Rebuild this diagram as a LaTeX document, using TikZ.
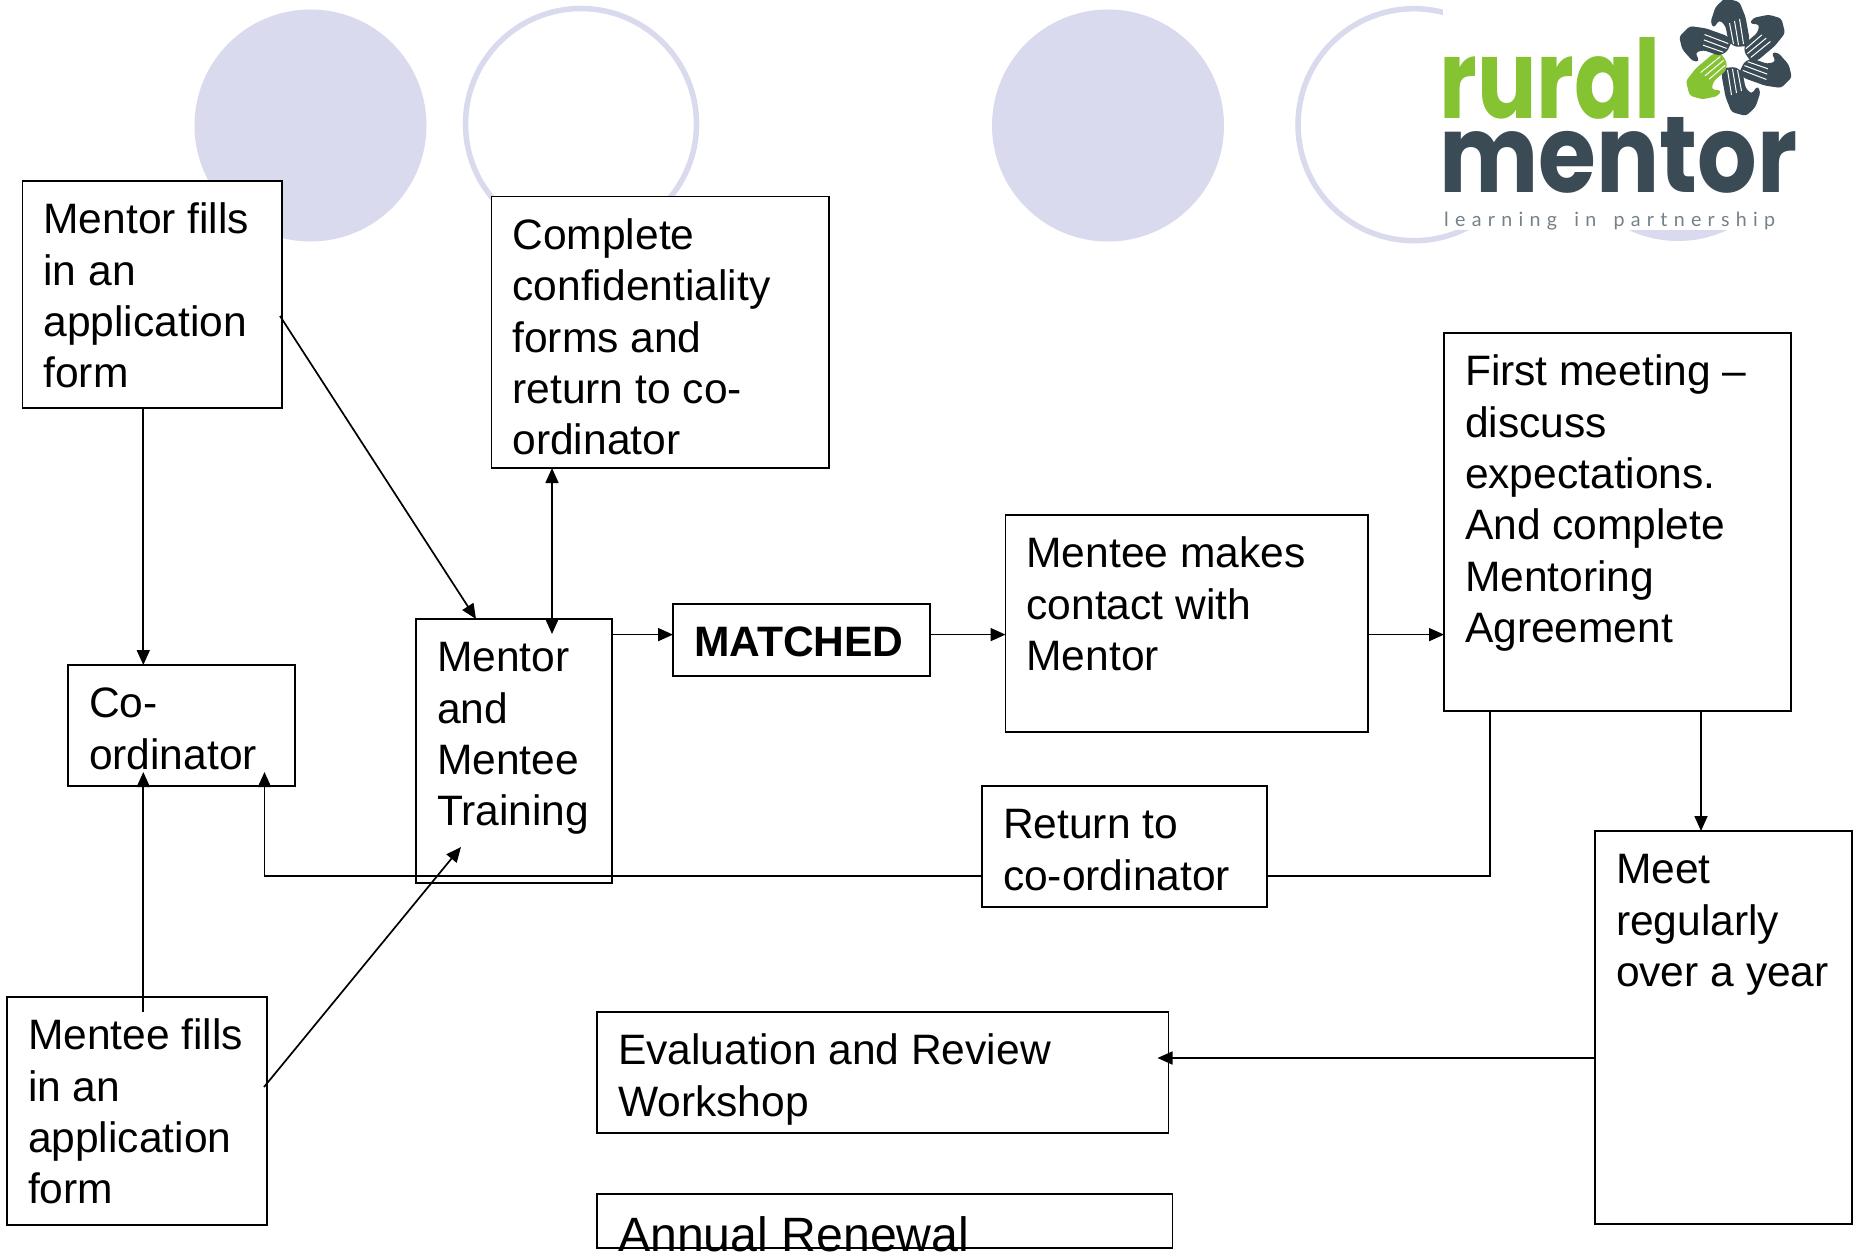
\documentclass[tikz,border=0pt]{standalone}
\usepackage{fontspec}
\usepackage{graphicx}
\setmainfont{Liberation Sans}
\newfontfamily\logofont{Poppins}
\newfontfamily\tagfont{Lato}
\usetikzlibrary{arrows.meta,calc}
\definecolor{lav}{HTML}{DADAEE}
\definecolor{logogreen}{HTML}{86C332}
\definecolor{logodark}{HTML}{3A4B55}
\newcommand{\boxtxt}[3]{\parbox[c][#2pt][t]{\dimexpr#1pt-42pt\relax}{\raggedright\vspace*{17pt}\strut #3}}
\tikzset{
  flowbox/.style={draw=black,fill=white,line width=1.7pt,inner sep=0pt,outer sep=0pt,anchor=north west,
    font=\fontsize{42.55}{51.3}\selectfont},
  conn/.style={line width=1.7pt,-{Triangle[length=15pt,width=13pt]}},
  dconn/.style={line width=1.7pt,{Triangle[length=15pt,width=13pt]}-{Triangle[length=15pt,width=13pt]}},
  plain/.style={line width=1.7pt},
  disc/.style={fill=lav,draw=none},
  ring/.style={draw=lav,line width=5.5pt,fill=none},
}
\begin{document}
\begin{tikzpicture}[x=1pt,y=-1pt]
\useasboundingbox (0,0) rectangle (1857,1252);
\clip (0,0) rectangle (1857,1252);
\fill[white] (0,0) rectangle (1857,1252);
% decorative circles
\fill[disc] (310.5,125.5) circle (116);
\draw[ring] (581,124) circle (115.5);
\fill[disc] (1108,125.5) circle (116);
\draw[ring] (1414,124.7) circle (116);
\fill[disc] (1678,125) circle (116);
% logo
\fill[white] (1443,0) rectangle (1800,230);
\node[inner sep=0pt,anchor=south west,text=logogreen] (lrural) at (1439,120)
  {\resizebox{221pt}{81pt}{\logofont\bfseries rural}};
\node[inner sep=0pt,anchor=south west,text=logodark] (lmentor) at (1439,194)
  {\resizebox{358pt}{75pt}{\logofont\bfseries mentor}};
\node[inner sep=0pt,anchor=base west,text=logodark!70] (ltag) at (1444,226.5)
  {\resizebox{331pt}{!}{\tagfont\addfontfeature{LetterSpace=32}learning\hspace{0.3em} in\hspace{0.3em} partnership}};
\foreach \a/\c in {0/logodark,-60/logodark,-120/logodark,-180/logodark,-240/logogreen,-300/logodark}{
  \begin{scope}[shift={(1735.5,57)},rotate=\a]
    \fill[\c,rounded corners=3pt] (-25,-35) -- (-20,-50) -- (-10.5,-59) -- (4,-55) -- (10,-40) -- (14,-18) -- (12,-11)
      -- (0,-10) -- (-7,-15) -- (-10,-31) -- (-16,-37) -- (-22,-29) -- cycle;
    \draw[white,line width=1pt] (-6,-34) -- (-2,-13) (-1,-36) -- (3,-12) (4,-38) -- (8,-13);
  \end{scope}
}
% boxes
\node[flowbox,minimum width=259.5pt,minimum height=227pt] (mentorfills) at (22.5,181)
  {\boxtxt{259.5}{227}{Mentor fills\\in an\\application\\form}};
\node[flowbox,minimum width=337.5pt,minimum height=271.5pt] (complete) at (491.5,196.5)
  {\boxtxt{337.5}{271.5}{Complete\\confidentiality\\forms and\\return to co-\\ordinator}};
\node[flowbox,minimum width=227pt,minimum height=121pt] (coord) at (68,665)
  {\boxtxt{227}{121}{Co-\\ordinator}};
\node[flowbox,minimum width=196pt,minimum height=264pt] (training) at (416,619)
  {\boxtxt{196}{264}{Mentor\\and\\Mentee\\Training}};
\node[flowbox,minimum width=257pt,minimum height=72pt] (matched) at (673,604)
  {\boxtxt{257}{72}{\bfseries MATCHED}};
\node[flowbox,minimum width=362.5pt,minimum height=217pt] (contact) at (1005.5,515)
  {\boxtxt{362.5}{217}{Mentee makes\\contact with\\Mentor}};
\node[flowbox,minimum width=347pt,minimum height=378pt] (first) at (1444,333)
  {\boxtxt{347}{378}{First meeting --\\discuss\\expectations.\\And complete\\Mentoring\\Agreement}};
\node[flowbox,minimum width=285pt,minimum height=121pt] (return) at (982,786)
  {\boxtxt{285}{121}{Return to\\co-ordinator}};
\node[flowbox,minimum width=257pt,minimum height=393pt] (meet) at (1595,831)
  {\boxtxt{257}{393}{Meet\\regularly\\over a year}};
\node[flowbox,minimum width=260pt,minimum height=228pt] (menteefills) at (7,997)
  {\boxtxt{260}{228}{Mentee fills\\in an\\application\\form}};
\node[flowbox,minimum width=571.5pt,minimum height=121pt] (eval) at (597,1012)
  {\boxtxt{571.5}{121}{Evaluation and Review\\Workshop}};
\node[flowbox,minimum width=575.5pt,minimum height=54pt] (annual) at (597,1194) {};
\node[inner sep=0pt,anchor=base west,font=\fontsize{48.2}{56}\selectfont] (annualtxt) at (618,1251.6) {Annual Renewal};
% helper coordinates
\coordinate (xa) at (143.3,0);
\coordinate (xb) at (552,0);
\coordinate (xc) at (264.5,0);
\coordinate (xd) at (1490,0);
\coordinate (xe) at (1701,0);
\coordinate (ya) at (0,634.6);
\coordinate (yb) at (0,876);
\coordinate (yc) at (0,1058);
\coordinate (tipco) at (0,772);
\coordinate (startmf) at (280,316);
\coordinate (tiptrtop) at (476,619);
\coordinate (startmef) at (264,1087);
\coordinate (tiptrbot) at (461,847);
\coordinate (tiptrin) at (0,634);
\coordinate (startco) at (0,1012);
\coordinate (tipeval) at (1157.5,0);
% connectors
\draw[conn] (xa |- mentorfills.south) -- (xa |- coord.north);
\draw[conn] (startmf) -- (tiptrtop);
\draw[dconn] (xb |- complete.south) -- (xb |- tiptrin);
\draw[conn] (training.east |- ya) -- (matched.west |- ya);
\draw[conn] (matched.east |- ya) -- (contact.west |- ya);
\draw[conn] (contact.east |- ya) -- (first.west |- ya);
\draw[conn] (xe |- first.south) -- (xe |- meet.north);
\draw[plain] (xd |- first.south) -- (xd |- yb) -- (return.east |- yb);
\draw[conn] (return.west |- yb) -- (xc |- yb) -- (xc |- tipco);
\draw[conn] (xa |- startco) -- (xa |- tipco);
\draw[conn] (startmef) -- (tiptrbot);
\draw[conn] (meet.west |- yc) -- (tipeval |- yc);
\end{tikzpicture}
\end{document}
